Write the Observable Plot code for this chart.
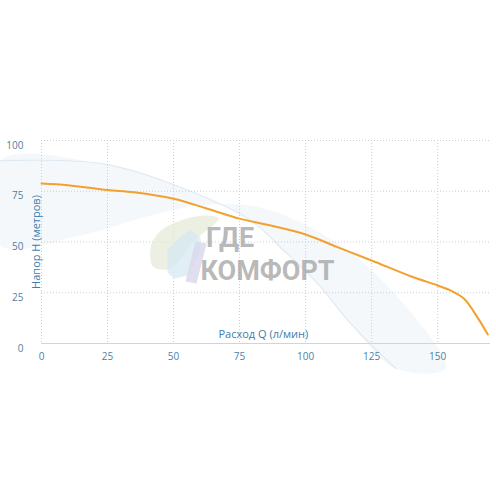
<!DOCTYPE html>
<html><head><meta charset="utf-8">
<script src="https://cdn.jsdelivr.net/npm/d3@7"></script>
<script src="https://cdn.jsdelivr.net/npm/@observablehq/plot@0.6"></script>
<style>body{margin:0;background:#fff;font-family:"Open Sans",sans-serif}
g[aria-label="watermark"] text{letter-spacing:2.5px}</style>
</head><body><div id="chart"></div>
<script>
// Pump curve: flow Q (л/мин) vs head H (метров)
const flowQ = [0, 10, 25, 35, 50, 62.5, 75, 85, 100, 112, 125, 140, 150, 155, 160, 165, 169];
const headH = [78.8, 78, 75.6, 74.5, 71.3, 66.5, 61.5, 58.6, 53.7, 47.5, 40.9, 33, 28.6, 26, 22, 13, 4.4];
const xTicks = [0, 25, 50, 75, 100, 125, 150];
const yTicks = [0, 25, 50, 75, 100];
const xLabel = "Расход Q (л/мин)";
const yLabel = "Напор Н (метров)";
const watermark = "\u2009ГДЕ\nКОМФОРТ";
// decorative background swoosh outline (first 8 points = sharp upper edge)
const swooshX = [-15.5, 22.3, 48.9, 79.2, 91.7, 104.5, 117.0, 134.1, 153.0, 136.0, 113.3, 83.0, 60.2, 41.3, 14.8, -15.5];
const swooshY = [90.1, 88.7, 78.8, 60.6, 45.8, 29.6, 9.9, -12.3, -12.3, 21.2, 48.3, 67.0, 68.0, 63.1, 53.2, 48.3];
// decorative logo shapes
const logoLeafX = [42.3, 41.5, 45.3, 52.7, 62.1, 67.0, 58.0, 48.9];
const logoLeafY = [37.9, 48.3, 55.7, 60.6, 63.1, 61.6, 50.7, 36.9];
const logoHouseX = [47.7, 47.7, 52.3, 56.4, 60.2, 60.2, 55.3, 50.4];
const logoHouseY = [35.0, 46.3, 52.2, 56.2, 52.2, 45.3, 33.5, 32.0];
const logoStrokeX = [58.3, 62.5, 58.7, 54.5];
const logoStrokeY = [50.2, 49.3, 29.6, 30.5];

const curve = flowQ.map((q, i) => ({q, h: headH[i]}));
const swoosh = swooshX.map((x, i) => ({x, y: swooshY[i]}));
const swooshEdge = swoosh.slice(0, 8);
const leaf = logoLeafX.map((x, i) => ({x, y: logoLeafY[i]}));
const house = logoHouseX.map((x, i) => ({x, y: logoHouseY[i]}));
const stroke = logoStrokeX.map((x, i) => ({x, y: logoStrokeY[i]}));
const axisColor = "#4f7fa3";

const chart = Plot.plot({
  width: 496, height: 496,
  marginTop: 140, marginBottom: 153, marginLeft: 41, marginRight: 6,
  style: {fontFamily: "Open Sans, sans-serif", fontSize: "10px", color: axisColor, background: "white"},
  x: {domain: [0, 170]},
  y: {domain: [0, 100]},
  marks: [
    Plot.line(swoosh, {x: "x", y: "y", curve: "catmull-rom-closed", fill: "#edf3f8", fillOpacity: 0.55, stroke: "none"}),
    Plot.line(swooshEdge, {x: "x", y: "y", curve: "catmull-rom", stroke: "#d6e3ee", strokeWidth: 1.2, strokeOpacity: 0.7}),
    Plot.gridX(xTicks, {stroke: "#c9ced3", strokeOpacity: 1, strokeDasharray: "1,2"}),
    Plot.gridY(yTicks.filter(d => d > 0), {stroke: "#c9ced3", strokeOpacity: 1, strokeDasharray: "1,2"}),
    Plot.ruleY([0], {stroke: "#cfd5da"}),
    Plot.line(leaf, {x: "x", y: "y", curve: "catmull-rom-closed", fill: "#e4ebd8", fillOpacity: 0.75, stroke: "none"}),
    Plot.line(house, {x: "x", y: "y", curve: "linear-closed", fill: "#d6e8f1", fillOpacity: 0.75, stroke: "none"}),
    Plot.line(stroke, {x: "x", y: "y", curve: "linear-closed", fill: "#d9d9ec", fillOpacity: 0.85, stroke: "none"}),
    Plot.text([watermark], {x: 60.2, y: 31.5, ariaLabel: "watermark", text: d => d, textAnchor: "start", lineAnchor: "bottom", lineHeight: 1.22, fontSize: 27, fontWeight: "bold", fill: "#9a9a9a", fillOpacity: 0.7, fontFamily: "Roboto, sans-serif"}),
    Plot.line(curve, {x: "q", y: "h", curve: "catmull-rom", stroke: "#f2a02e", strokeWidth: 2}),
    Plot.axisX({ticks: xTicks, tickSize: 0, tickPadding: 9, label: null, fill: axisColor}),
    Plot.axisY({ticks: yTicks, tickSize: 0, tickPadding: 18, dy: 5, label: null, fill: axisColor}),
    Plot.text([xLabel], {frameAnchor: "bottom-left", dx: 177, dy: -6, text: d => d, textAnchor: "start", fill: "#3d7cab", fontSize: 11}),
    Plot.text([yLabel], {frameAnchor: "left", dx: -5, dy: 0, rotate: -90, textAnchor: "middle", text: d => d, fill: "#3d7cab", fontSize: 11})
  ]
});
document.getElementById("chart").append(chart);
</script></body></html>
